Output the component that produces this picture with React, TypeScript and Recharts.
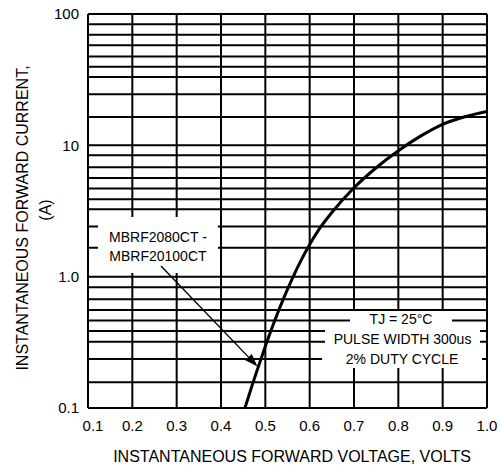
import React from 'react';
import {
  LineChart,
  Line,
  XAxis,
  YAxis,
  CartesianGrid,
  ReferenceArea,
  ReferenceLine,
  Label,
} from 'recharts';

// ---- data ----
const voltage = [0.454, 0.47, 0.48, 0.49, 0.5, 0.52, 0.54, 0.56, 0.58, 0.6, 0.62, 0.65, 0.7, 0.75, 0.8, 0.85, 0.9, 0.95, 1.0];
const current = [0.1, 0.148, 0.187, 0.235, 0.295, 0.452, 0.668, 0.955, 1.32, 1.76, 2.26, 3.08, 4.75, 6.75, 9.1, 11.75, 14.45, 16.5, 18.1];

const xTicks = [0.1, 0.2, 0.3, 0.4, 0.5, 0.6, 0.7, 0.8, 0.9, 1.0];
const xTickLabels = ['0.1', '0.2', '0.3', '0.4', '0.5', '0.6', '0.7', '0.8', '0.9', '1.0'];
const yTicks = [0.1, 1, 10, 100];
const yTickLabels = ['0.1', '1.0', '10', '100'];

// grid lines as drawn on the reference sheet
const verticalGrid = [0.1, 0.2, 0.3, 0.4, 0.5, 0.6, 0.7, 0.8, 0.9, 1.0];
const horizontalGrid = [
  0.1, 0.157, 0.236, 0.32, 0.385, 0.463, 0.558, 0.673, 0.83,
  1, 1.66, 2.41, 3.26, 3.89, 4.7, 5.65, 6.8, 8.4,
  10, 16.4, 24.5, 33.1, 39.7, 47.4, 57.7, 69.5, 83.6,
  100,
];

const partLabel = ['MBRF2080CT -', 'MBRF20100CT'];
const conditionLabel = ['TJ = 25°C', 'PULSE WIDTH 300us', '2% DUTY CYCLE'];
const xTitle = 'INSTANTANEOUS FORWARD VOLTAGE, VOLTS';
const yTitle = ['INSTANTANEOUS FORWARD CURRENT,', '(A)'];

const data = voltage.map((v, i) => ({ v, i: current[i] }));

const FONT = '"Liberation Sans", Arial, Helvetica, sans-serif';

function XTick(props: any) {
  const { x, y, payload } = props;
  const idx = xTicks.indexOf(payload.value);
  const shift = idx === 0 ? 5 : 0;
  return (
    <text
      x={x + shift}
      y={y}
      dy="0.71em"
      textAnchor="middle"
      fill="#000"
      fontSize={15}
      fontFamily={FONT}
    >
      {xTickLabels[idx]}
    </text>
  );
}

function ArrowShape(props: any) {
  const { x1, y1, x2, y2 } = props;
  if ([x1, y1, x2, y2].some((n) => typeof n !== 'number' || isNaN(n))) return null;
  const ang = Math.atan2(y2 - y1, x2 - x1);
  const len = 13;
  const half = 4.5;
  const bx = x2 - len * Math.cos(ang);
  const by = y2 - len * Math.sin(ang);
  const px = -Math.sin(ang) * half;
  const py = Math.cos(ang) * half;
  return (
    <g>
      <line x1={x1} y1={y1} x2={bx} y2={by} stroke="#000" strokeWidth={1.4} />
      <polygon points={`${x2},${y2} ${bx + px},${by + py} ${bx - px},${by - py}`} fill="#000" />
    </g>
  );
}

const labelStyle = { fill: '#000', fontSize: 14, fontFamily: FONT };

export default function App() {
  return (
    <div style={{ position: 'fixed', left: 0, top: 0, width: 499, height: 465, background: '#fff' }}>
      <LineChart
        width={499}
        height={465}
        data={data}
        margin={{ top: 14, right: 12, bottom: 0, left: 0 }}
      >
        <CartesianGrid
          stroke="#000"
          strokeWidth={2}
          horizontalValues={horizontalGrid}
          verticalValues={verticalGrid}
        />
        <XAxis
          dataKey="v"
          type="number"
          domain={[0.1, 1]}
          ticks={xTicks}
          interval={0}
          tick={<XTick />}
          axisLine={false}
          tickLine={false}
          tickSize={6}
          tickMargin={6}
          height={57}
          allowDataOverflow
        >
          <Label
            content={() => (
              <text x={292} y={462} textAnchor="middle" fill="#000" fontSize={16} fontFamily={FONT}>
                {xTitle}
              </text>
            )}
          />
        </XAxis>
        <YAxis
          type="number"
          scale="log"
          domain={[0.1, 100]}
          ticks={yTicks}
          interval={0}
          tickFormatter={(v: number) => yTickLabels[yTicks.indexOf(v)]}
          tick={{ fill: '#000', fontSize: 15, fontFamily: FONT }}
          axisLine={false}
          tickLine={false}
          tickSize={6}
          tickMargin={3}
          width={88}
          allowDataOverflow
        >
          <Label
            content={() => (
              <g fill="#000" fontSize={16} fontFamily={FONT}>
                <text transform="translate(28,218) rotate(-90)" textAnchor="middle">
                  {yTitle[0]}
                </text>
                <text transform="translate(51,210) rotate(-90)" textAnchor="middle">
                  {yTitle[1]}
                </text>
              </g>
            )}
          />
        </YAxis>

        {/* part-number annotation box */}
        <ReferenceArea x1={0.1226} x2={0.393} y1={1.066} y2={2.847} fill="#fff" fillOpacity={1} stroke="none" />
        <ReferenceArea x1={0.1226} x2={0.393} y1={1.624} y2={2.475} fill="none" stroke="none"
          label={{ value: partLabel[0], position: 'center', ...labelStyle }} />
        <ReferenceArea x1={0.1226} x2={0.393} y1={1.271} y2={1.624} fill="none" stroke="none"
          label={{ value: partLabel[1], position: 'center', ...labelStyle }} />

        {/* test-condition annotation box */}
        <ReferenceArea x1={0.691} x2={0.921} y1={0.4066} y2={0.548} fill="#fff" fillOpacity={1} stroke="none"
          label={{ value: conditionLabel[0], position: 'center', ...labelStyle }} />
        <ReferenceArea x1={0.6347} x2={0.9843} y1={0.2762} y2={0.4066} fill="#fff" fillOpacity={1} stroke="none"
          label={{ value: conditionLabel[1], position: 'center', ...labelStyle }} />
        <ReferenceArea x1={0.628} x2={0.9889} y1={0.2017} y2={0.2762} fill="#fff" fillOpacity={1} stroke="none"
          label={{ value: conditionLabel[2], position: 'center', ...labelStyle }} />

        <ReferenceLine
          segment={[{ x: 0.2647, y: 1.206 }, { x: 0.4824, y: 0.207 }]}
          stroke="#000"
          shape={(p: any) => <ArrowShape {...p} />}
        />

        <Line
          type="monotone"
          dataKey="i"
          stroke="#000"
          strokeWidth={3}
          dot={false}
          activeDot={false}
          isAnimationActive={false}
        />
      </LineChart>
    </div>
  );
}
